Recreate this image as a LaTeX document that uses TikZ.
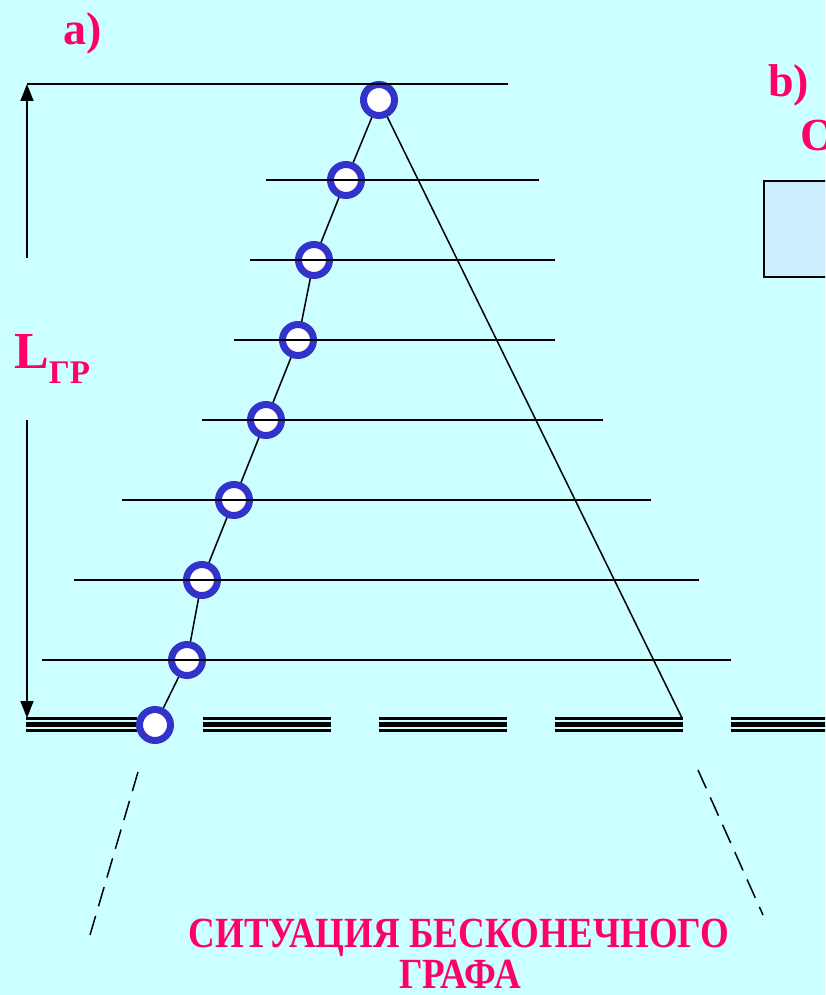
\documentclass[tikz,border=0pt]{standalone}
\usepackage{fontspec}
\setmainfont{Liberation Serif}
\usetikzlibrary{arrows.meta}
\definecolor{bg}{RGB}{204,255,255}
\definecolor{mag}{RGB}{255,0,102}
\definecolor{ring}{RGB}{51,51,204}
\definecolor{boxfill}{RGB}{204,238,255}
\begin{document}
\begin{tikzpicture}[x=1pt,y=-1pt,
  vtx/.style={circle,draw=ring,line width=7pt,fill=white,minimum size=31pt,inner sep=0pt},
  hline/.style={line width=1.5pt},
  dimarrow/.style={line width=1.5pt,-{Triangle[width=13pt,length=17pt]}},
  bigtxt/.style={text=mag,font=\bfseries\fontsize{46}{46}\selectfont,inner sep=0pt},
  captxt/.style={text=mag,font=\bfseries\fontsize{43}{43}\selectfont,inner sep=0pt,anchor=base},
  guide/.style={line width=1.5pt,dash pattern=on 20pt off 10pt}
]
\useasboundingbox (0,0) rectangle (825,995);
\clip (0,0) rectangle (825,995);
\fill[bg] (0,0) rectangle (825,995);

% labels
\node[bigtxt,anchor=base west] (la) at (63,45) {a)};
\node[bigtxt,anchor=base west] (lb) at (768,97) {b)};
\node[bigtxt,anchor=base west] (lo) at (800,151) {О};
\node[draw=black,line width=2pt,fill=boxfill,minimum width=100pt,minimum height=96pt,anchor=north west,inner sep=0pt] (box) at (763,180) {};

% triple ground line
\foreach \a/\b in {26/137,203/331,379/507,555/683,731/840}{
  \draw[line width=2.5pt] (\a,718.5) -- (\b,718.5);
  \draw[line width=5.5pt] (\a,724.5) -- (\b,724.5);
  \draw[line width=2.5pt] (\a,730.5) -- (\b,730.5);
}

% vertices
\coordinate (apex) at (682,718);
\foreach \i/\x/\y in {1/379/100,2/346/180,3/314/260,4/298/340,5/266/420,6/234/500,7/202/580,8/187/660,9/155/725}
  \coordinate (p\i) at (\x,\y);
\draw[hline] (p9) -- (p8) -- (p7) -- (p6) -- (p5) -- (p4) -- (p3) -- (p2) -- (p1) -- (apex);
\foreach \i in {1,...,9}
  \node[vtx] (c\i) at (p\i) {};

% top line
\coordinate (tl) at (27,84);
\coordinate (tr) at (508,84);
\draw[hline] (tl) -- (tr);

% horizontal level lines
\foreach \y/\a/\b in {180/266/539,260/250/555,340/234/555,420/202/603,500/122/651,580/74/699,660/42/731}
  \draw[hline] (\a,\y) -- (\b,\y);

% dimension arrows
\coordinate (d1) at (27,258);
\coordinate (d2) at (27,420);
\coordinate (db) at (27,718);
\draw[dimarrow] (d1) -- (tl);
\draw[dimarrow] (d2) -- (db);
\node[text=mag,font=\bfseries\fontsize{52}{52}\selectfont,inner sep=0pt,anchor=base west] (L) at (14,368)
  {L\raisebox{-15pt}{\fontsize{33}{33}\selectfont ГР}};

% dashed guides
\coordinate (g1a) at (138,772);
\coordinate (g1b) at (90,935);
\coordinate (g2a) at (698,770);
\coordinate (g2b) at (763,915);
\draw[guide] (g1a) -- (g1b);
\draw[guide] (g2a) -- (g2b);

% caption
\node[captxt] (cap1) at (459,947) {\scalebox{0.86}[1]{СИТУАЦИЯ БЕСКОНЕЧНОГО}};
\node[captxt] (cap2) at (460,988) {\scalebox{0.86}[1]{ГРАФА}};
\end{tikzpicture}
\end{document}
